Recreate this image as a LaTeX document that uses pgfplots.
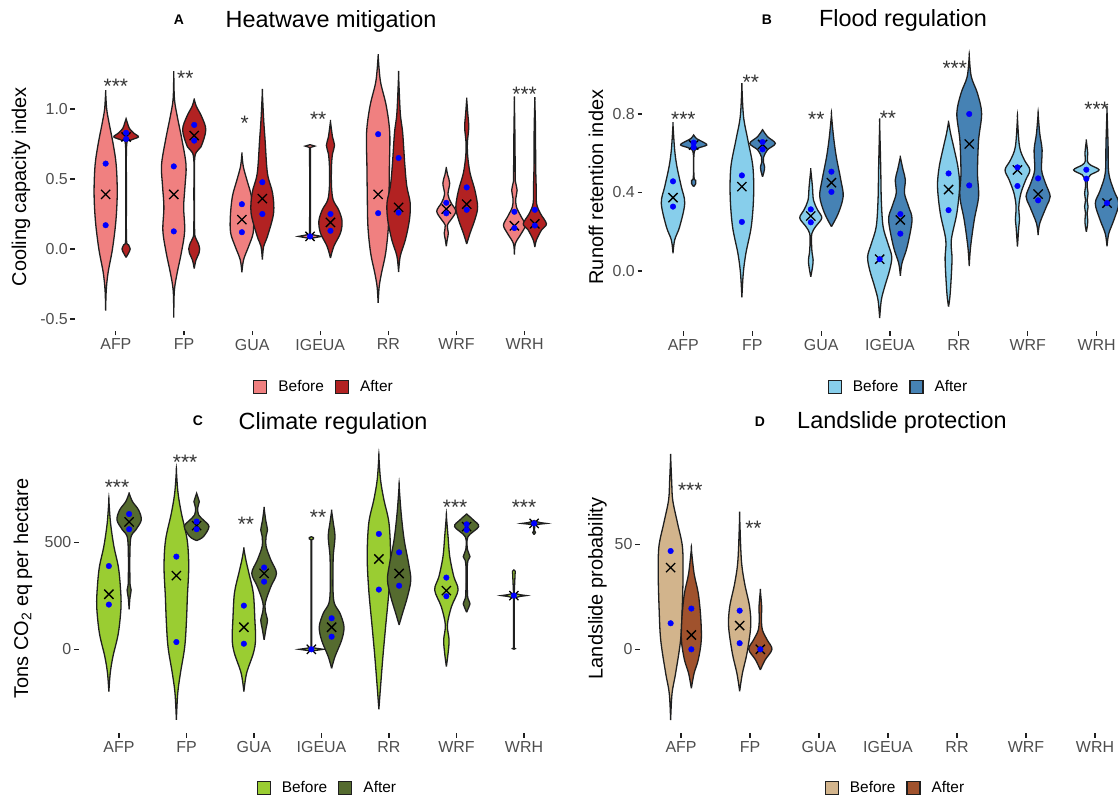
\documentclass[border=0pt]{standalone}
\usepackage{fontspec}
\setmainfont{Liberation Sans}
\usepackage{pgfplots}
\pgfplotsset{compat=1.18}

\definecolor{cA1}{HTML}{F08080}\definecolor{cA2}{HTML}{B22222}
\definecolor{cB1}{HTML}{87CEEB}\definecolor{cB2}{HTML}{4682B4}
\definecolor{cC1}{HTML}{9ACD32}\definecolor{cC2}{HTML}{556B2F}
\definecolor{cD1}{HTML}{D2B48C}\definecolor{cD2}{HTML}{A0522D}
\definecolor{outl}{HTML}{1F1F1F}
\definecolor{tickc}{HTML}{4D4D4D}
\definecolor{dotb}{HTML}{0000FF}

% violin: #1 options, #2 centre, #3 list of y/halfwidth from bottom to top
\newcommand\violin[3]{%
  \gdef\vR{}\gdef\vL{}%
  \foreach \yy/\ww in {#3}{%
    \xdef\vR{\vR(\fpeval{#2+\ww},\yy)}%
    \xdef\vL{(\fpeval{#2-\ww},\yy)\vL}%
  }%
  \edef\vtmp{\noexpand\addplot[vio,#1] coordinates {\vR\vL};}%
  \vtmp
}

\pgfplotsset{
  panel/.style={scale only axis, axis lines=left, axis line style={draw=none,-},
    tick align=outside, major tick length=4.5bp,
    tick style={draw=outl, line width=1.1bp},
    xtick={1,2,3,4,5,6,7}, xticklabels={AFP,FP,GUA,IGEUA,RR,WRF,WRH},
    xmin=0.4, xmax=7.6, clip=false,
    /pgf/number format/assume math mode=true,
    tick label style={font=\fontsize{16}{19}\selectfont, text=tickc},
    xticklabel style={inner sep=3.5bp}, yticklabel style={inner sep=2.5bp},
    legend style={draw=none, fill=none, inner sep=0pt, outer sep=0pt, anchor=center,
      legend columns=2, font=\fontsize{15.5}{18}\selectfont, nodes={inner sep=0pt},
      /tikz/every odd column/.append style={column sep=11bp},
      /tikz/every even column/.append style={column sep=11bp}},
  },
  vio/.style={draw=outl, line width=1.3bp, smooth, tension=0.55, forget plot},
  xm/.style={only marks, mark=x, mark size=6.5bp, draw=black, line width=1.3bp, forget plot},
  bd/.style={only marks, mark=*, mark size=2.8bp, draw=dotb, fill=dotb, forget plot},
  boxleg/.style={legend image code/.code={\draw[##1] (0bp,-6.5bp) rectangle (13bp,6.5bp);}},
  ylab/.style={every axis y label/.style={at={(axis description cs:#1,0.5)}, rotate=90, anchor=center, font=\fontsize{20}{24}\selectfont}},
}
\tikzset{stars/.style={anchor=base, yshift=-12bp, font=\fontsize{21}{24}\selectfont, text=black!80, inner sep=0pt}}

\begin{document}
\begin{tikzpicture}
% ---------------- A ----------------
\begin{axis}[panel, at={(75bp,465.2bp)}, anchor=south west, width=490.5bp, height=288.2bp,
  ymin=-0.584, ymax=1.474, ytick={-0.5,0,0.5,1}, yticklabels={-0.5,0.0,0.5,1.0},
  ylab=-0.110, ylabel={Cooling capacity index},
  legend style={at={(axis description cs:0.5056,-0.194)}}]
\addlegendimage{boxleg, fill=cA1, draw=outl, line width=1.2bp}\addlegendentry{Before}
\addlegendimage{boxleg, fill=cA2, draw=outl, line width=1.2bp}\addlegendentry{After}
\violin{fill=cA1}{0.85}{-0.44/0, -0.3/0.008, -0.17/0.035, 0.0/0.1, 0.2/0.15, 0.4/0.17, 0.6/0.155, 0.75/0.11, 0.9/0.05, 1.0/0.015, 1.12/0}
\violin{fill=cA2}{1.15}{-0.06/0, -0.03/0.035, 0.0/0.06, 0.03/0.035, 0.07/0.006, 0.4/0.005, 0.74/0.008, 0.775/0.06, 0.80/0.18, 0.825/0.12, 0.86/0.05, 0.9/0.02, 0.93/0}
\violin{fill=cA1}{1.85}{-0.49/0, -0.3/0.008, -0.17/0.05, -0.03/0.11, 0.13/0.16, 0.3/0.145, 0.45/0.165, 0.6/0.18, 0.78/0.12, 0.95/0.05, 1.07/0.01, 1.25/0}
\violin{fill=cA2}{2.15}{-0.14/0, -0.08/0.025, -0.03/0.07, 0.0/0.08, 0.04/0.06, 0.08/0.02, 0.13/0.006, 0.4/0.005, 0.66/0.01, 0.73/0.1, 0.85/0.17, 0.945/0.11, 1.02/0.03, 1.07/0}
\violin{fill=cA1}{2.85}{-0.166/0, -0.076/0.025, 0.02/0.1, 0.114/0.165, 0.23/0.17, 0.375/0.14, 0.49/0.075, 0.59/0.02, 0.68/0}
\violin{fill=cA2}{3.15}{-0.076/0, 0.02/0.02, 0.09/0.075, 0.256/0.165, 0.4/0.15, 0.54/0.075, 0.78/0.04, 0.92/0.02, 1.12/0}
\violin{fill=cA1, sharp plot}{3.85}{0.075/0, 0.082/0.08, 0.09/0.17, 0.098/0.08, 0.105/0.006, 0.4/0.005, 0.725/0.006, 0.735/0.07, 0.745/0}
\violin{fill=cA2}{4.15}{-0.064/0, 0.02/0.05, 0.114/0.147, 0.2/0.17, 0.28/0.12, 0.35/0.04, 0.45/0.015, 0.59/0.015, 0.68/0.03, 0.74/0.06, 0.80/0.03, 0.91/0}
\violin{fill=cA1}{4.85}{-0.385/0, -0.27/0.015, -0.17/0.05, -0.03/0.11, 0.16/0.15, 0.4/0.16, 0.59/0.165, 0.83/0.17, 1.02/0.12, 1.18/0.04, 1.28/0.015, 1.38/0}
\violin{fill=cA2}{5.15}{-0.164/0, -0.05/0.025, 0.066/0.1, 0.21/0.16, 0.33/0.17, 0.45/0.12, 0.61/0.09, 0.83/0.06, 0.97/0.025, 1.24/0}
\violin{fill=cA1}{5.85}{0.02/0, 0.07/0.015, 0.114/0.03, 0.17/0.015, 0.21/0.07, 0.27/0.14, 0.33/0.07, 0.39/0.025, 0.47/0.05, 0.53/0.02, 0.58/0}
\violin{fill=cA2}{6.15}{0.036/0, 0.114/0.05, 0.21/0.12, 0.30/0.16, 0.42/0.12, 0.54/0.05, 0.66/0.015, 0.76/0.01, 0.87/0.03, 0.97/0.015, 1.07/0}
\violin{fill=cA1}{6.85}{-0.04/0, 0.04/0.015, 0.11/0.1, 0.17/0.16, 0.23/0.1, 0.30/0.03, 0.36/0.02, 0.42/0.04, 0.48/0.015, 0.54/0.012, 0.8/0.008, 1.06/0}
\violin{fill=cA2}{7.15}{0.014/0, 0.066/0.025, 0.137/0.1, 0.18/0.17, 0.255/0.08, 0.326/0.025, 0.44/0.02, 0.6/0.012, 0.85/0.01, 1.06/0}
\addplot[xm] coordinates {(0.85,0.39) (1.15,0.80) (1.85,0.39) (2.15,0.81) (2.85,0.21) (3.15,0.36) (3.85,0.09) (4.15,0.19) (4.85,0.39) (5.15,0.297) (5.85,0.285) (6.15,0.32) (6.85,0.166) (7.15,0.18)};
\addplot[bd] coordinates {(0.85,0.61) (0.85,0.17) (1.15,0.83) (1.15,0.786) (1.85,0.59) (1.85,0.126) (2.15,0.886) (2.15,0.774) (2.85,0.32) (2.85,0.12) (3.15,0.477) (3.15,0.25) (3.85,0.09) (4.15,0.25) (4.15,0.13) (4.85,0.82) (4.85,0.256) (5.15,0.65) (5.15,0.26) (5.85,0.33) (5.85,0.255) (6.15,0.44) (6.15,0.28) (6.85,0.266) (6.85,0.15) (7.15,0.28) (7.15,0.168)};
\node[stars] at (axis cs:1,1.195) {***};
\node[stars] at (axis cs:2.02,1.254) {**};
\node[stars] at (axis cs:2.89,0.933) {*};
\node[stars] at (axis cs:3.97,0.957) {**};
\node[stars] at (axis cs:7,1.14) {***};
\end{axis}

% ---------------- B ----------------
\begin{axis}[panel, at={(642bp,464.8bp)}, anchor=south west, width=496bp, height=288.2bp,
  ymin=-0.307, ymax=1.162, ytick={0,0.4,0.8}, yticklabels={0.0,0.4,0.8},
  ylab=-0.093, ylabel={Runoff retention index},
  legend style={at={(axis description cs:0.515,-0.193)}}]
\addlegendimage{boxleg, fill=cB1, draw=outl, line width=1.2bp}\addlegendentry{Before}
\addlegendimage{boxleg, fill=cB2, draw=outl, line width=1.2bp}\addlegendentry{After}
\violin{fill=cB1}{0.85}{0.09/0, 0.158/0.024, 0.226/0.097, 0.345/0.17, 0.43/0.12, 0.53/0.058, 0.617/0.024, 0.744/0}
\violin{fill=cB2}{1.15}{0.43/0, 0.445/0.03, 0.462/0.03, 0.478/0.005, 0.6/0.006, 0.625/0.06, 0.642/0.19, 0.66/0.12, 0.675/0.04, 0.693/0}
\violin{fill=cB1}{1.85}{-0.134/0, -0.012/0.02, 0.09/0.058, 0.226/0.136, 0.38/0.17, 0.53/0.16, 0.667/0.087, 0.786/0.024, 0.94/0}
\violin{fill=cB2}{2.15}{0.48/0, 0.505/0.02, 0.53/0.03, 0.555/0.012, 0.58/0.015, 0.617/0.07, 0.65/0.185, 0.685/0.07, 0.72/0}
\violin{fill=cB1}{2.85}{-0.03/0, 0.02/0.025, 0.056/0.034, 0.09/0.02, 0.13/0.012, 0.19/0.015, 0.226/0.07, 0.27/0.16, 0.31/0.1, 0.36/0.04, 0.43/0.024, 0.515/0}
\violin{fill=cB2}{3.15}{0.226/0, 0.294/0.1, 0.38/0.17, 0.464/0.136, 0.583/0.07, 0.685/0.03, 0.795/0}
\violin{fill=cB1}{3.85}{-0.24/0, -0.148/0.024, -0.08/0.073, 0.005/0.145, 0.073/0.175, 0.14/0.12, 0.226/0.05, 0.36/0.024, 0.53/0.015, 0.752/0}
\violin{fill=cB2}{4.15}{-0.025/0, 0.04/0.024, 0.124/0.1, 0.26/0.17, 0.328/0.12, 0.396/0.06, 0.464/0.073, 0.515/0.04, 0.58/0}
\violin{fill=cB1}{4.85}{-0.182/0, -0.114/0.024, 0.056/0.05, 0.158/0.04, 0.294/0.12, 0.43/0.16, 0.53/0.136, 0.634/0.073, 0.7/0.03, 0.76/0}
\violin{fill=cB2}{5.15}{0.025/0, 0.124/0.02, 0.26/0.073, 0.38/0.136, 0.5/0.12, 0.667/0.136, 0.803/0.18, 0.905/0.12, 0.99/0.03, 1.095/0}
\violin{fill=cB1}{5.85}{0.124/0, 0.226/0.02, 0.26/0.03, 0.328/0.02, 0.396/0.05, 0.464/0.12, 0.515/0.18, 0.566/0.1, 0.634/0.03, 0.778/0}
\violin{fill=cB2}{6.15}{0.183/0, 0.243/0.024, 0.328/0.12, 0.38/0.175, 0.447/0.107, 0.515/0.05, 0.617/0.058, 0.7/0.024, 0.8/0}
\violin{fill=cB1}{6.85}{0.2/0, 0.23/0.015, 0.26/0.02, 0.295/0.012, 0.328/0.025, 0.36/0.012, 0.396/0.025, 0.43/0.012, 0.47/0.02, 0.49/0.06, 0.515/0.185, 0.54/0.06, 0.56/0.015, 0.6/0.02, 0.664/0}
\violin{fill=cB2}{7.15}{0.125/0, 0.19/0.025, 0.26/0.1, 0.344/0.17, 0.41/0.1, 0.5/0.025, 0.65/0.015, 0.82/0}
\addplot[xm] coordinates {(0.85,0.374) (1.15,0.642) (1.85,0.43) (2.15,0.645) (2.85,0.28) (3.15,0.45) (3.85,0.06) (4.15,0.26) (4.85,0.415) (5.15,0.647) (5.85,0.515) (6.15,0.392) (7.15,0.346)};
\addplot[bd] coordinates {(0.85,0.457) (0.85,0.328) (1.15,0.654) (1.15,0.63) (1.85,0.487) (1.85,0.25) (2.15,0.657) (2.15,0.62) (2.85,0.314) (2.85,0.248) (3.15,0.506) (3.15,0.403) (3.85,0.06) (4.15,0.29) (4.15,0.19) (4.85,0.497) (4.85,0.31) (5.15,0.8) (5.15,0.436) (5.85,0.528) (5.85,0.433) (6.15,0.472) (6.15,0.36) (6.85,0.516) (6.85,0.47) (7.15,0.346)};
\node[stars] at (axis cs:1,0.8) {***};
\node[stars] at (axis cs:1.98,0.987) {**};
\node[stars] at (axis cs:2.93,0.8) {**};
\node[stars] at (axis cs:3.97,0.803) {**};
\node[stars] at (axis cs:4.94,1.058) {***};
\node[stars] at (axis cs:7,0.846) {***};
\end{axis}

% ---------------- C ----------------
\begin{axis}[panel, at={(78.5bp,62.9bp)}, anchor=south west, width=486bp, height=289.6bp,
  ymin=-391.5, ymax=961.5, ytick={0,500}, yticklabels={0,500},
  ylab=-0.114, ylabel={Tons CO\textsubscript{2} eq per hectare},
  legend style={at={(axis description cs:0.510,-0.19)}}]
\addlegendimage{boxleg, fill=cC1, draw=outl, line width=1.2bp}\addlegendentry{Before}
\addlegendimage{boxleg, fill=cC2, draw=outl, line width=1.2bp}\addlegendentry{After}
\violin{fill=cC1}{0.85}{-198/0, -112/0.02, -34/0.06, 75/0.14, 199/0.18, 293/0.17, 386/0.14, 480/0.075, 589/0.025, 695/0}
\violin{fill=cC2}{1.15}{187/0, 240/0.012, 277/0.03, 320/0.012, 511/0.02, 558/0.1, 604/0.18, 651/0.14, 690/0.05, 729/0}
\violin{fill=cC1}{1.85}{-330/0, -206/0.02, -112/0.06, 12/0.124, 137/0.15, 246/0.163, 386/0.183, 511/0.16, 635/0.075, 729/0.025, 833/0}
\violin{fill=cC2}{2.15}{508/0, 526/0.1, 573/0.183, 604/0.1, 628/0.03, 660/0.015, 690/0.04, 710/0.02, 729/0}
\violin{fill=cC1}{2.85}{-198/0, -112/0.04, -19/0.14, 44/0.173, 137/0.163, 262/0.14, 355/0.075, 417/0.03, 470/0}
\violin{fill=cC2}{3.15}{44/0, 100/0.03, 137/0.05, 175/0.02, 220/0.02, 293/0.1, 355/0.183, 417/0.1, 480/0.03, 530/0.03, 558/0.05, 600/0.025, 659/0}
\violin{fill=cC1, sharp plot}{3.85}{-8/0, -4/0.09, 0/0.18, 4/0.09, 8/0.006, 300/0.005, 512/0.006, 516/0.03, 522/0.03, 526/0}
\violin{fill=cC2}{4.15}{-89/0, -34/0.05, 44/0.15, 106/0.183, 168/0.124, 215/0.04, 280/0.02, 355/0.02, 440/0.025, 526/0.05, 590/0.025, 646/0}
\violin{fill=cC1}{4.85}{-280/0, -174/0.025, -34/0.06, 106/0.1, 277/0.15, 433/0.173, 589/0.15, 698/0.075, 791/0.025, 900/0}
\violin{fill=cC2}{5.15}{114/0, 168/0.05, 246/0.124, 324/0.173, 402/0.14, 511/0.075, 636/0.03, 763/0}
\violin{fill=cC1}{5.85}{-81/0, -19/0.025, 44/0.04, 114/0.015, 199/0.075, 277/0.173, 340/0.11, 433/0.05, 526/0.025, 623/0}
\violin{fill=cC2}{6.15}{173/0, 195/0.03, 212/0.05, 230/0.03, 260/0.012, 400/0.012, 433/0.05, 466/0.012, 526/0.02, 573/0.178, 604/0.1, 632/0}
\violin{fill=cC1, sharp plot}{6.85}{0/0, 3/0.02, 6/0.005, 240/0.005, 247/0.09, 251/0.183, 255/0.09, 262/0.005, 365/0.02, 371/0}
\violin{fill=cC2, sharp plot}{7.15}{536/0, 545/0.02, 555/0.005, 580/0.01, 585/0.09, 588/0.18, 592/0.09, 597/0.03, 602/0}
\addplot[xm] coordinates {(0.85,257) (1.15,595) (1.85,344) (2.15,578) (2.85,103) (3.15,355) (3.85,0) (4.15,103) (4.85,422) (5.15,354) (5.85,274) (6.15,573) (6.85,251) (7.15,588)};
\addplot[bd] coordinates {(0.85,389) (0.85,209) (1.15,632) (1.15,561) (1.85,433) (1.85,34) (2.15,597) (2.15,561) (2.85,204) (2.85,26) (3.15,382) (3.15,316) (3.85,0) (4.15,145) (4.15,59) (4.85,539) (4.85,279) (5.15,453) (5.15,297) (5.85,335) (5.85,248) (6.15,584) (6.15,558) (6.85,251) (7.15,588)};
\node[stars] at (axis cs:0.97,780) {***};
\node[stars] at (axis cs:1.98,897) {***};
\node[stars] at (axis cs:2.88,607) {**};
\node[stars] at (axis cs:3.95,639) {**};
\node[stars] at (axis cs:5.98,685) {***};
\node[stars] at (axis cs:7,685) {***};
\end{axis}

% ---------------- D ----------------
\begin{axis}[panel, at={(639.6bp,62.7bp)}, anchor=south west, width=496.8bp, height=289.8bp,
  ymin=-40, ymax=98, ytick={0,50}, yticklabels={0,50},
  ylab=-0.0847, ylabel={Landslide probability},
  legend style={at={(axis description cs:0.513,-0.189)}}]
\addlegendimage{boxleg, fill=cD1, draw=outl, line width=1.2bp}\addlegendentry{Before}
\addlegendimage{boxleg, fill=cD2, draw=outl, line width=1.2bp}\addlegendentry{After}
\violin{fill=cD1}{0.85}{-33.7/0, -21/0.02, -11.4/0.072, 4.4/0.144, 20/0.168, 36/0.18, 49/0.17, 60/0.1, 71/0.03, 80/0.015, 91.7/0}
\violin{fill=cD2}{1.15}{-18.6/0, -11.4/0.04, -5/0.1, 4.4/0.144, 15.6/0.135, 26.7/0.1, 36/0.04, 47.6/0}
\violin{fill=cD1}{1.85}{-20/0, -11.4/0.04, -1.9/0.106, 10.8/0.16, 20.3/0.144, 31.4/0.072, 42.5/0.025, 63.2/0}
\violin{fill=cD2}{2.15}{-9.8/0, -5/0.07, 0/0.168, 4.4/0.1, 9.2/0.03, 15/0.015, 20/0.02, 27.9/0}
\addplot[xm] coordinates {(0.85,38.9) (1.15,6.8) (1.85,11.3) (2.15,0)};
\addplot[bd] coordinates {(0.85,46.8) (0.85,12.4) (1.15,19.4) (1.15,0) (1.85,18.4) (1.85,2.9) (2.15,0)};
\node[stars] at (axis cs:1.135,77.8) {***};
\node[stars] at (axis cs:2.05,59.7) {**};
\end{axis}

% titles
\node[anchor=base, font=\bfseries\fontsize{14}{16}\selectfont] at (179bp,771bp) {A};
\node[anchor=base, font=\fontsize{23.5}{27}\selectfont] at (331bp,768bp) {Heatwave mitigation};
\node[anchor=base, font=\bfseries\fontsize{14}{16}\selectfont] at (767bp,771bp) {B};
\node[anchor=base, font=\fontsize{23.5}{27}\selectfont] at (903bp,769bp) {Flood regulation};
\node[anchor=base, font=\bfseries\fontsize{14}{16}\selectfont] at (198bp,370bp) {C};
\node[anchor=base, font=\fontsize{23.5}{27}\selectfont] at (333bp,366.7bp) {Climate regulation};
\node[anchor=base, font=\bfseries\fontsize{14}{16}\selectfont] at (760bp,369.3bp) {D};
\node[anchor=base, font=\fontsize{23.5}{27}\selectfont] at (902bp,367bp) {Landslide protection};

\pgfresetboundingbox
\useasboundingbox (0bp,0bp) rectangle (1118bp,796bp);
\end{tikzpicture}
\end{document}
